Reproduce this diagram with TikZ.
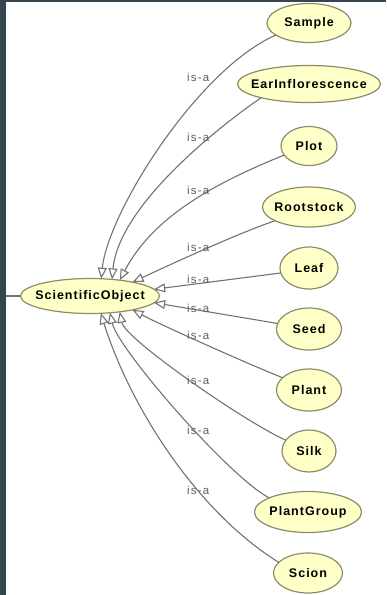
\documentclass[tikz,border=0pt]{standalone}
\usepackage{fontspec}
\setmainfont{Liberation Sans}
\newfontfamily\classfont[LetterSpace=8]{Liberation Sans}
\newfontfamily\relfont[LetterSpace=10]{Liberation Sans}
\usetikzlibrary{shapes.geometric,arrows.meta}

\definecolor{framecol}{RGB}{52,70,79}
\definecolor{classfill}{RGB}{255,255,200}
\definecolor{classline}{RGB}{140,140,108}
\definecolor{edgegray}{RGB}{115,115,115}
\definecolor{labelgray}{RGB}{95,95,95}

% class names are centred without widening the ellipse
\newcommand\cname[1]{\makebox[0pt]{#1}}

\tikzset{
  cls/.style={ellipse, draw=classline, fill=classfill, line width=1.2pt,
    inner sep=0pt, outer sep=0pt, text=black,
    font=\classfont\bfseries\fontsize{12.5}{14}\selectfont},
  isa/.style={anchor=west, inner sep=0pt, text=labelgray,
    font=\relfont\fontsize{11.5}{13}\selectfont},
  rel/.style={draw=edgegray, line width=1.1pt,
    -{Triangle[fill=white, length=11pt, width=9pt]}},
  plain/.style={draw=edgegray, line width=1.1pt},
}

\begin{document}
\begin{tikzpicture}[x=1pt,y=-1pt]
  \fill[white] (0,0) rectangle (386,595);
  \useasboundingbox (0,0) rectangle (386,595);
  % dark window frame
  \fill[framecol] (0,0) rectangle (6,595);
  \fill[framecol] (0,0) rectangle (386,2);

  % parent class
  \node[cls, minimum width=139pt, minimum height=35pt] (so) at (90,296) {\cname{ScientificObject}};

  % subclasses
  \node[cls, minimum width=84pt,  minimum height=39pt] (sample) at (309,23)  {\cname{Sample}};
  \node[cls, minimum width=143pt, minimum height=37pt] (ear)    at (309,84)  {\cname{EarInflorescence}};
  \node[cls, minimum width=56pt,  minimum height=39pt] (plot)   at (309,146) {\cname{Plot}};
  \node[cls, minimum width=93pt,  minimum height=40pt] (root)   at (309,207) {\cname{Rootstock}};
  \node[cls, minimum width=58pt,  minimum height=42pt] (leaf)   at (309,268) {\cname{Leaf}};
  \node[cls, minimum width=65pt,  minimum height=42pt] (seed)   at (309,329) {\cname{Seed}};
  \node[cls, minimum width=65pt,  minimum height=42pt] (plant)  at (309,390) {\cname{Plant}};
  \node[cls, minimum width=54pt,  minimum height=42pt] (silk)   at (309,451) {\cname{Silk}};
  \node[cls, minimum width=107pt, minimum height=41pt] (pgroup) at (308,512) {\cname{PlantGroup}};
  \node[cls, minimum width=69pt,  minimum height=40pt] (scion)  at (308,573) {\cname{Scion}};

  % link towards the superclass outside the view
  \coordinate (up) at (6,296);
  \draw[plain] (up) -- (so.west);

  % is-a relations
  \draw[rel] (sample.200) .. controls (198,69)  and (108,212) .. (so.57);
  \draw[rel] (ear.196)    .. controls (224,123) and (119,204) .. (so.37);
  \draw[rel] (plot.200)   .. controls (218,182) and (154,215) .. (so.28);
  \draw[rel] (root.202)   .. controls (236,234) and (165,267) .. (so.18);
  \draw[rel] (leaf.190)   -- (so.6);
  \draw[rel] (seed.170)   -- (so.-6);
  \draw[rel] (plant.155)  .. controls (241,361) and (159,324) .. (so.-18);
  \draw[rel] (silk.155)   .. controls (245,422) and (125,339) .. (so.-28);
  \draw[rel] (pgroup.160) .. controls (229,477) and (118,349) .. (so.-40);
  \draw[rel] (scion.160)  .. controls (196,511) and (130,406) .. (so.-58);

  % relation labels
  \node[isa] (l1)  at (187,77)  {is-a};
  \node[isa] (l2)  at (187,137) {is-a};
  \node[isa] (l3)  at (187,190) {is-a};
  \node[isa] (l4)  at (187,247) {is-a};
  \node[isa] (l5)  at (187,279) {is-a};
  \node[isa] (l6)  at (187,308) {is-a};
  \node[isa] (l7)  at (187,335) {is-a};
  \node[isa] (l8)  at (187,380) {is-a};
  \node[isa] (l9)  at (187,430) {is-a};
  \node[isa] (l10) at (187,490) {is-a};
\end{tikzpicture}
\end{document}
